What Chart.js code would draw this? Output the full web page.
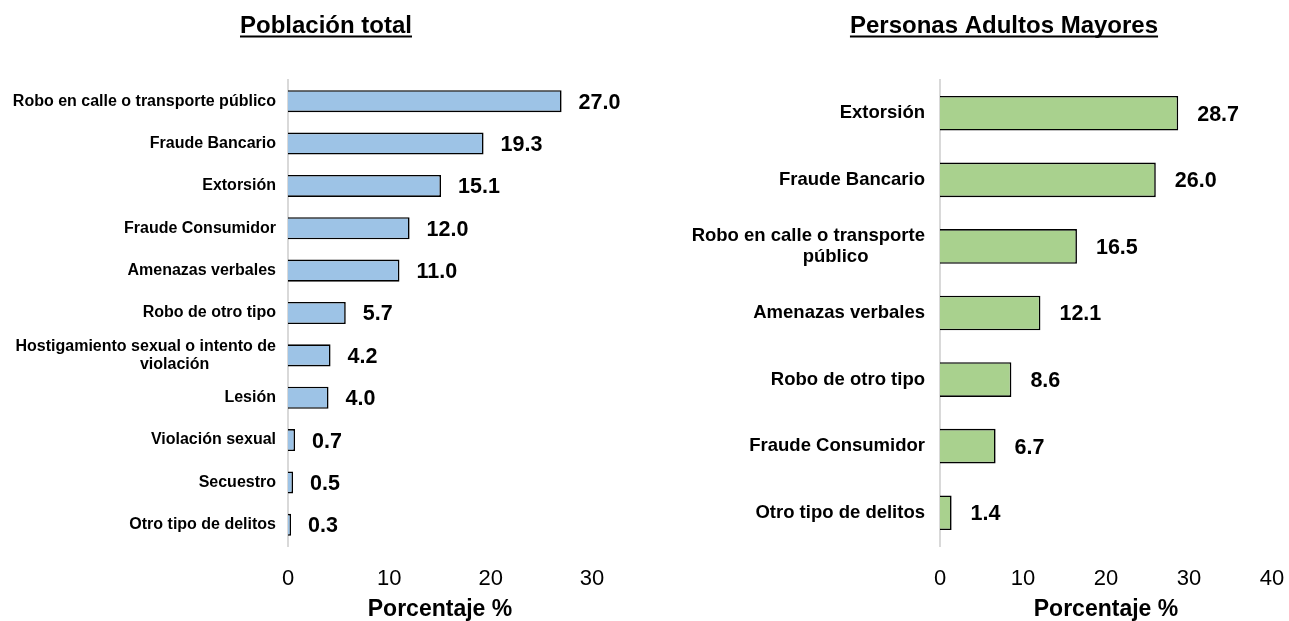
<!DOCTYPE html>
<html><head><meta charset="utf-8">
<script src="https://cdn.jsdelivr.net/npm/chart.js@4.4.1/dist/chart.umd.min.js"></script>
<style>
html,body{margin:0;padding:0;background:#fff;overflow:hidden}
#wrap{position:relative;width:1289px;height:621px;background:#fff}
#c1{position:absolute;left:0;top:0}
#c2{position:absolute;left:640px;top:0}
</style></head><body>
<div id="wrap">
<canvas id="c1" width="640" height="621"></canvas>
<canvas id="c2" width="649" height="621"></canvas>
</div>
<script>
const leftTitle = 'Población total';
const leftCategories = [
  'Robo en calle o transporte público',
  'Fraude Bancario',
  'Extorsión',
  'Fraude Consumidor',
  'Amenazas verbales',
  'Robo de otro tipo',
  ['Hostigamiento sexual o intento de', 'violación'],
  'Lesión',
  'Violación sexual',
  'Secuestro',
  'Otro tipo de delitos'
];
const leftValues = [27.0, 19.3, 15.1, 12.0, 11.0, 5.7, 4.2, 4.0, 0.7, 0.5, 0.3];
const leftTicks = [0, 10, 20, 30];

const rightTitle = 'Personas Adultos Mayores';
const rightCategories = [
  'Extorsión',
  'Fraude Bancario',
  ['Robo en calle o transporte', 'público'],
  'Amenazas verbales',
  'Robo de otro tipo',
  'Fraude Consumidor',
  'Otro tipo de delitos'
];
const rightValues = [28.7, 26.0, 16.5, 12.1, 8.6, 6.7, 1.4];
const rightTicks = [0, 10, 20, 30, 40];

const xAxisTitle = 'Porcentaje %';

const FAMILY = '"Liberation Sans", Arial, sans-serif';

function wrapTickCallback(fontStr, shift) {
  const mctx = document.createElement('canvas').getContext('2d');
  mctx.font = fontStr;
  const sp = mctx.measureText(' ').width;
  return function (value) {
    const lab = this.getLabelForValue(value);
    if (!Array.isArray(lab)) return lab;
    const w1 = mctx.measureText(lab[0]).width;
    return lab.map((line, i) => {
      if (i === 0) return line;
      const w = mctx.measureText(line).width;
      const n = Math.max(0, Math.round(((w1 - w) / 2 - shift) / sp));
      return line + ' '.repeat(n);
    });
  };
}

function makeChart(canvas, cfg) {
  const titlePlugin = {
    id: 'underlinedTitle',
    afterDraw(chart) {
      const ctx = chart.ctx;
      ctx.save();
      ctx.font = 'bold 24px ' + FAMILY;
      ctx.fillStyle = '#000';
      ctx.textAlign = 'center';
      ctx.textBaseline = 'alphabetic';
      ctx.fillText(cfg.title, cfg.titleX, 33);
      const w = ctx.measureText(cfg.title).width;
      ctx.fillRect(cfg.titleX - w / 2, 35.5, w, 2);
      ctx.restore();
    }
  };
  const valuePlugin = {
    id: 'valueLabels',
    afterDatasetsDraw(chart) {
      const ctx = chart.ctx;
      const meta = chart.getDatasetMeta(0);
      const data = chart.data.datasets[0].data;
      ctx.save();
      ctx.font = 'bold 21.5px ' + FAMILY;
      ctx.fillStyle = '#000';
      ctx.textAlign = 'left';
      ctx.textBaseline = 'middle';
      meta.data.forEach((bar, i) => {
        ctx.fillText(data[i].toFixed(1), bar.x + cfg.labelOffset, bar.y + 1.5);
      });
      ctx.restore();
    }
  };
  const yFont = 'bold ' + cfg.yFontSize + 'px ' + FAMILY;
  return new Chart(canvas, {
    type: 'bar',
    data: {
      labels: cfg.categories,
      datasets: [{
        data: cfg.values,
        backgroundColor: cfg.color,
        borderColor: '#000',
        borderWidth: 1.6,
        barPercentage: 0.52,
        categoryPercentage: 1.0
      }]
    },
    options: {
      indexAxis: 'y',
      responsive: false,
      animation: false,
      devicePixelRatio: 1,
      layout: { padding: { top: 80, right: cfg.padRight, bottom: 0, left: 0 } },
      plugins: { legend: { display: false }, tooltip: { enabled: false }, title: { display: false } },
      scales: {
        x: {
          type: 'linear',
          min: cfg.ticks[0],
          max: cfg.ticks[cfg.ticks.length - 1],
          afterBuildTicks(scale) { scale.ticks = cfg.ticks.map(v => ({ value: v })); },
          afterFit(scale) { scale.paddingLeft = 0; scale.paddingRight = 0; },
          grid: { display: false, drawTicks: false },
          border: { display: false },
          ticks: { color: '#000', font: { size: 22, family: FAMILY }, padding: 20, maxRotation: 0 },
          title: {
            display: true, text: xAxisTitle, color: '#000',
            font: { size: 23, weight: 'bold', family: FAMILY },
            padding: { top: -17, bottom: -2 }
          }
        },
        y: {
          grid: { display: false, drawTicks: false },
          border: { display: true, color: '#d9d9d9', width: 2 },
          afterFit(scale) { scale.width = cfg.axisWidth; },
          ticks: {
            color: '#000',
            font: { size: cfg.yFontSize, weight: 'bold', family: FAMILY, lineHeight: 1.15 },
            padding: cfg.yPad,
            autoSkip: false,
            callback: wrapTickCallback(yFont, cfg.shift)
          }
        }
      }
    },
    plugins: [titlePlugin, valuePlugin]
  });
}

makeChart(document.getElementById('c1'), {
  title: leftTitle, titleX: 326,
  categories: leftCategories, values: leftValues, ticks: leftTicks,
  color: '#9DC3E6', padRight: 48, axisWidth: 288, yFontSize: 16, yPad: 12,
  labelOffset: 17, shift: 30
});
makeChart(document.getElementById('c2'), {
  title: rightTitle, titleX: 364,
  categories: rightCategories, values: rightValues, ticks: rightTicks,
  color: '#A9D18E', padRight: 17, axisWidth: 300, yFontSize: 18.5, yPad: 15,
  labelOffset: 19, shift: 28
});
</script>
</body></html>
